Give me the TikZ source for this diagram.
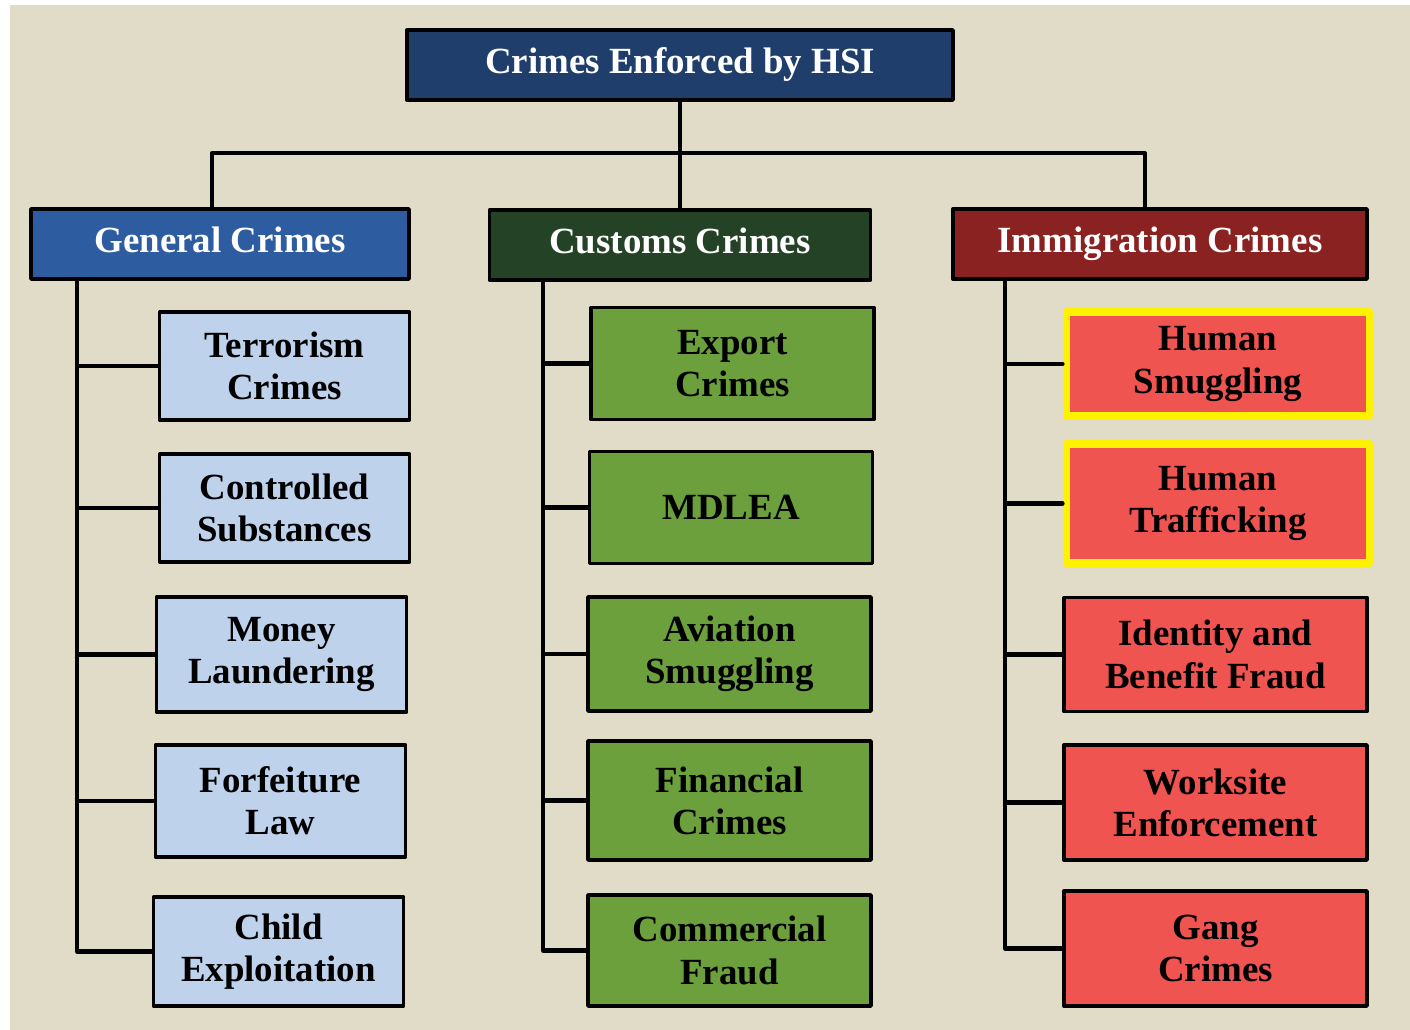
\documentclass[tikz,border=0pt]{standalone}
\usepackage{fontspec}
\setmainfont{Liberation Serif}
\usetikzlibrary{calc}
\definecolor{paper}{RGB}{224,220,199}
\definecolor{topblue}{RGB}{31,62,108}
\definecolor{genblue}{RGB}{46,92,160}
\definecolor{cusgreen}{RGB}{36,66,38}
\definecolor{immred}{RGB}{138,34,34}
\definecolor{kidblue}{RGB}{191,210,236}
\definecolor{kidgreen}{RGB}{108,160,60}
\definecolor{kidred}{RGB}{240,84,80}
\definecolor{hiyellow}{RGB}{255,242,0}
\tikzset{
    txt/.style={
        font=\fontsize{21}{24}\selectfont\bfseries
    }
}
\begin{document}
\begin{tikzpicture}[x=0.02cm,y=-0.02cm, line cap=round, line join=round]

\tikzset{
  wire/.style={draw=black, line width=2.3pt},
  head/.style={txt, rectangle, draw=black, line width=2pt, text=white, minimum height=1.4cm, inner sep=0pt, text height=14pt, text depth=4.5pt},
  kid/.style={txt, rectangle, draw=black, line width=2pt, align=center, inner sep=0pt},
  gkid/.style={kid, fill=kidblue, minimum width=5.0cm, minimum height=2.16cm},
  ckid/.style={kid, fill=kidgreen, minimum width=5.66cm, minimum height=2.24cm},
  ikid/.style={kid, fill=kidred, minimum width=6.06cm, minimum height=2.28cm},
  hilite/.style={draw=hiyellow, line width=4.5pt},
}

% background
\fill[white] (0,0) rectangle (1410,1030);
\fill[paper] (10,5) rectangle (1410,1030);

% top and headers
\node[head, fill=topblue, minimum width=10.92cm] (top) at (680,65) {Crimes Enforced by HSI};
\node[head, fill=genblue, minimum width=7.56cm] (gen) at (220,244) {General Crimes};
\node[head, fill=cusgreen, minimum width=7.62cm] (cus) at (680,245) {Customs Crimes};
\node[head, fill=immred, minimum width=8.28cm] (imm) at (1160,244) {Immigration Crimes};

% general crimes
\node[gkid] (terr) at (284.5,366) {Terrorism\\Crimes};
\node[gkid] (ctrl) at (284.5,508) {Controlled\\Substances};
\node[gkid, minimum height=2.3cm] (money) at (281.5,654.5) {Money\\Laundering};
\node[gkid, minimum height=2.24cm] (forf) at (280.5,801) {Forfeiture\\Law};
\node[gkid, minimum height=2.18cm] (child) at (278.5,951.5) {Child\\Exploitation};

% customs crimes
\node[ckid] (export) at (732.5,363.5) {Export\\Crimes};
\node[ckid] (mdlea) at (731,507.5) {MDLEA};
\node[ckid, minimum height=2.28cm] (avia) at (729.5,654) {Aviation\\Smuggling};
\node[ckid, minimum height=2.38cm] (fin) at (729.5,800.5) {Financial\\Crimes};
\node[ckid, minimum height=2.22cm] (comm) at (729.5,950.5) {Commercial\\Fraud};

% immigration crimes
\node[ikid, hilite, minimum height=2.08cm] (smug) at (1218,364) {Human\\Smuggling};
\node[ikid, hilite, minimum height=2.38cm] (traf) at (1218,503.5) {Human\\Trafficking};
\node[ikid] (ident) at (1215.5,654.5) {Identity and\\Benefit Fraud};
\node[ikid, minimum height=2.3cm] (work) at (1215.5,802.5) {Worksite\\Enforcement};
\node[ikid, minimum height=2.3cm] (gang) at (1215.5,948.5) {Gang\\Crimes};

% bus from top
\coordinate (busL) at (212,153);
\coordinate (busR) at (1145,153);
\draw[wire] (top.south) -- (cus.north);
\draw[wire] (busL |- gen.north) -- (busL) -- (busR) -- (busR |- imm.north);

% spines
\coordinate (gs) at (77,281);
\coordinate (cs) at (543,282);
\coordinate (is) at (1005,281);
\foreach \k in {terr,ctrl,money,forf,child} \draw[wire] (gs) |- (\k.west);
\foreach \k in {export,mdlea,avia,fin,comm} \draw[wire] (cs) |- (\k.west);
\foreach \k in {smug,traf,ident,work,gang} \draw[wire] (is) |- (\k.west);

\end{tikzpicture}
\end{document}
